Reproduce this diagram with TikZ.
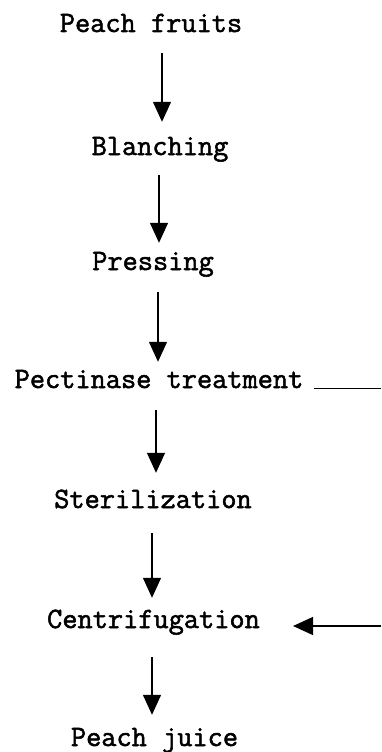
\documentclass[tikz,border=0pt]{standalone}
\usepackage{fontspec}
\usepackage{tikz}
\usetikzlibrary{arrows.meta}
\newfontfamily\stepfont{Latin Modern Mono}[FakeBold=1.8]

\tikzset{
  stage/.style={inner sep=0pt, text height=18pt, text depth=5pt, anchor=base,
    font=\stepfont\fontsize{29.5}{34}\selectfont},
  flow/.style={line width=1.3pt, -{Triangle[width=18pt,length=20pt]}},
  side/.style={line width=1pt}
}

\begin{document}
\begin{tikzpicture}[x=1pt, y=-1pt]
\useasboundingbox (0,0) rectangle (381,752);

% process steps
\node[stage] (pf) at (151,32) {Peach fruits};
\node[stage] (bl) at (160,155) {Blanching};
\node[stage] (pr) at (153,270) {Pressing};
\node[stage] (pt) at (159,388) {Pectinase treatment};
\node[stage] (st) at (153,508) {Sterilization};
\node[stage] (ce) at (153.5,628) {Centrifugation};
\node[stage] (pj) at (154.5,746) {Peach juice};

% free ends at the right edge
\coordinate (ptout) at (381,388);
\coordinate (cein) at (381,626);

\draw[flow] ([xshift=11pt,yshift=-16pt]pf.south) -- ([xshift=2pt,yshift=15pt]bl.north);
\draw[flow] ([xshift=-1pt,yshift=-15pt]bl.south) -- ([xshift=6pt,yshift=9pt]pr.north);
\draw[flow] ([xshift=5pt,yshift=-17pt]pr.south) -- ([xshift=-1pt,yshift=8pt]pt.north);
\draw[flow] ([xshift=-3pt,yshift=-17pt]pt.south) -- ([xshift=3pt,yshift=17pt]st.north);
\draw[flow] ([xshift=-1pt,yshift=-20pt]st.south) -- ([xshift=-1.5pt,yshift=12pt]ce.north);
\draw[flow] ([xshift=-1.5pt,yshift=-24pt]ce.south) -- ([xshift=-2.5pt,yshift=13pt]pj.north);

% side streams
\draw[side] ([xshift=10pt]pt.base east) -- (ptout);
\draw[flow] (cein) -- ([xshift=33pt,yshift=2pt]ce.base east);
\end{tikzpicture}
\end{document}
